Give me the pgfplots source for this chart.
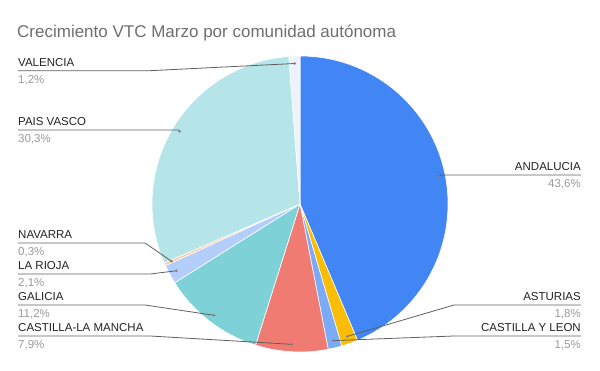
\documentclass[border=0pt]{standalone}
\usepackage{fontspec}
\setmainfont{Liberation Sans}
\usepackage{pgfplots}
\usepackage{pgfplotstable}
\pgfplotsset{compat=1.18}
\definecolor{c0}{HTML}{4285F4}
\definecolor{c1}{HTML}{FBBC04}
\definecolor{c2}{HTML}{7BAAF7}
\definecolor{c3}{HTML}{F07B72}
\definecolor{c4}{HTML}{7ED1D7}
\definecolor{c5}{HTML}{B3CEFB}
\definecolor{c6}{HTML}{F9CB9C}
\definecolor{c7}{HTML}{B5E5E8}
\definecolor{c8}{HTML}{ECF3FE}
\definecolor{titlegray}{HTML}{6E6E6E}
\definecolor{namecol}{HTML}{222222}
\definecolor{pctcol}{HTML}{999999}
\definecolor{leadcol}{HTML}{5F5F5F}

\pgfplotstableread[col sep=semicolon]{
name;value;liney;elbowx;endx;anch
ANDALUCIA;43.6;175;443;581;base east
ASTURIAS;1.8;305;454;581;base east
CASTILLA Y LEON;1.5;336;454;581;base east
CASTILLA-LA MANCHA;7.9;336;150;18;base west
GALICIA;11.2;305;145;18;base west
LA RIOJA;2.1;274;150;18;base west
NAVARRA;0.3;243;145;18;base west
PAIS VASCO;30.3;130;179;18;base west
VALENCIA;1.2;70.7;150;18;base west
}\datatable

\begin{document}
\begin{tikzpicture}
\begin{axis}[
  scale only axis, width=600pt, height=371pt,
  xmin=0, xmax=600, ymin=0, ymax=371,
  hide axis, clip=false,
]
\pgfplotsextra{
  \path (axis cs:0,0) rectangle (axis cs:600,371);
  \pgfplotstablegetrowsof{\datatable}\pgfmathtruncatemacro\last{\pgfplotsretval-1}
  % total
  \gdef\total{0}
  \foreach \i in {0,...,\last}{
    \pgfplotstablegetelem{\i}{value}\of\datatable
    \pgfmathsetmacro\t{\total+\pgfplotsretval}\xdef\total{\t}
  }
  % slices
  \gdef\cum{0}
  \foreach \i in {0,...,\last}{
    \pgfplotstablegetelem{\i}{value}\of\datatable \let\val\pgfplotsretval
    \pgfmathsetmacro\a{\cum/\total*360}
    \pgfmathsetmacro\b{(\cum+\val)/\total*360}
    \fill[c\i, draw=white, line width=0.6pt, line join=round]
      (axis cs:300,167) -- (axis cs:{300+148*sin(\a)},{167+148*cos(\a)})
      arc[start angle={90-\a}, end angle={90-\b}, radius=148pt] -- cycle;
    \pgfmathsetmacro\c{\cum+\val}\xdef\cum{\c}
  }
  % leaders and labels
  \gdef\cum{0}
  \foreach \i in {0,...,\last}{
    \pgfplotstablegetelem{\i}{value}\of\datatable \let\val\pgfplotsretval
    \pgfplotstablegetelem{\i}{liney}\of\datatable \let\ly\pgfplotsretval
    \pgfplotstablegetelem{\i}{elbowx}\of\datatable \let\ex\pgfplotsretval
    \pgfplotstablegetelem{\i}{endx}\of\datatable \let\nx\pgfplotsretval
    \pgfplotstablegetelem{\i}{anch}\of\datatable \let\an\pgfplotsretval
    \pgfplotstablegetelem{\i}{name}\of\datatable \let\nm\pgfplotsretval
    \pgfmathsetmacro\m{(\cum+\val/2)/\total*360}
    \pgfmathsetmacro\dx{300+140.6*sin(\m)}
    \pgfmathsetmacro\dy{167+140.6*cos(\m)}
    \pgfmathsetmacro\Y{371-\ly}
    \draw[leadcol, line width=0.8pt] (axis cs:\dx,\dy) -- (axis cs:\ex,\Y) -- (axis cs:\nx,\Y);
    \fill[gray] (axis cs:\dx,\dy) circle[radius=1.4pt];
    \node[anchor=\an, inner sep=0pt, text=namecol, font=\fontsize{11.5}{13}\selectfont]
      at (axis cs:\nx,{\Y+4.5}) {\nm};
    \node[anchor=\an, inner sep=0pt, text=pctcol, font=\fontsize{11.5}{13}\selectfont]
      at (axis cs:\nx,{\Y-12.6}) {\pgfmathprintnumber[fixed, fixed zerofill, precision=1, use comma, assume math mode=true]{\val}\%};
    \pgfmathsetmacro\c{\cum+\val}\xdef\cum{\c}
  }
  \node[anchor=base west, inner sep=0pt, text=titlegray, font=\fontsize{17}{20}\selectfont]
    at (axis cs:17,333) {Crecimiento VTC Marzo por comunidad autónoma};
}
\end{axis}
\end{tikzpicture}
\end{document}
